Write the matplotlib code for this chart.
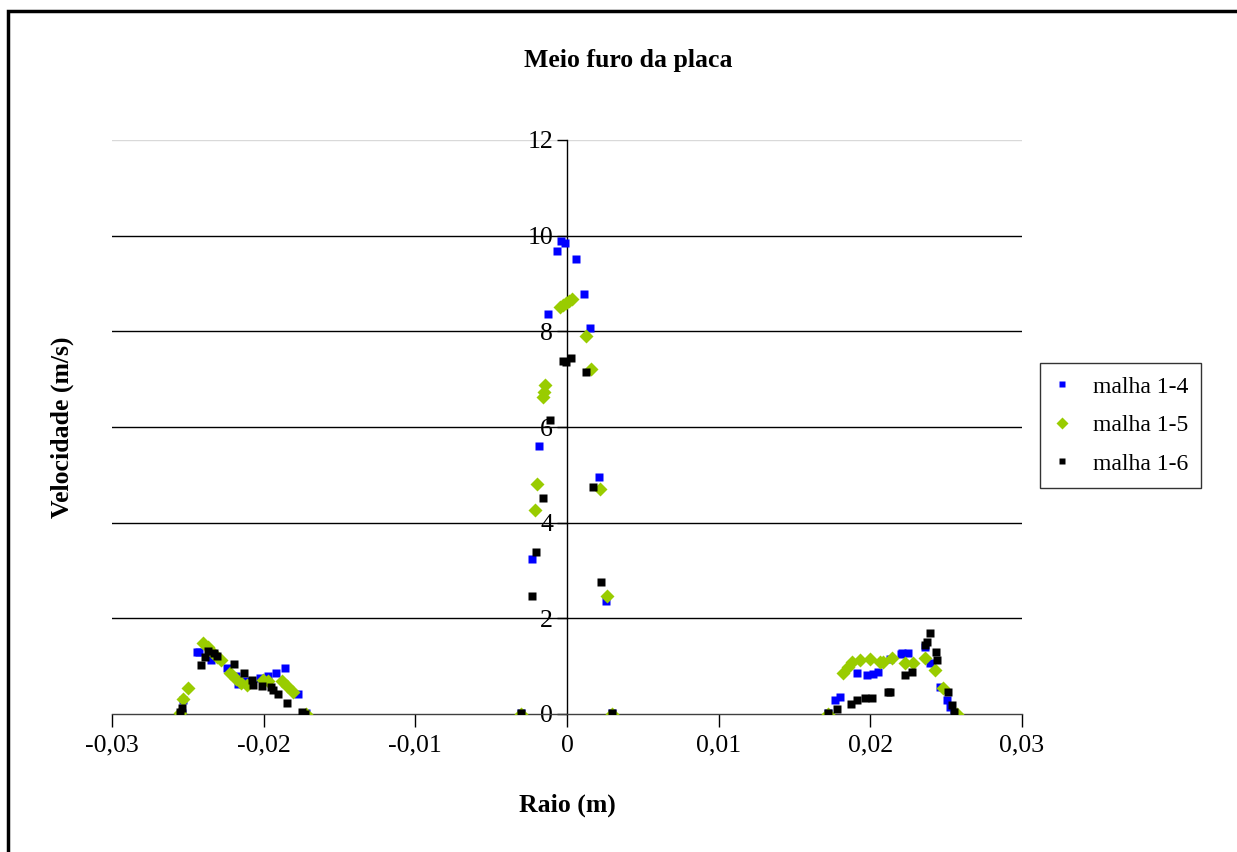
import matplotlib.pyplot as plt
from matplotlib.patches import Rectangle
from matplotlib.ticker import FuncFormatter

plt.rcParams['font.family'] = ['Liberation Serif', 'DejaVu Serif']

# Velocidade x raio, três malhas
r_m14 = [-0.0254, -0.0253, -0.02442, -0.02424, -0.0235, -0.02242, -0.0218, -0.02167,
         -0.0212, -0.02024, -0.0197, -0.01921, -0.01859, -0.01776, -0.0172,
         -0.00301, -0.00231, -0.00183, -0.00123, -0.00066, -0.000415, -0.00013,
         0.00057, 0.00114, 0.00152, 0.00209, 0.00255, 0.00297,
         0.01723, 0.01767, 0.018, 0.0191, 0.01976, 0.0202, 0.02053, 0.0213,
         0.022, 0.02207, 0.0225, 0.0236, 0.02393, 0.02459, 0.02503, 0.02525, 0.0255]
v_m14 = [0.02, 0.29, 1.30, 1.29, 1.12, 0.96, 0.80, 0.62,
         0.68, 0.75, 0.80, 0.85, 0.97, 0.42, 0.02,
         0.02, 3.24, 5.61, 8.37, 9.67, 9.88, 9.85,
         9.52, 8.79, 8.08, 4.96, 2.37, 0.02,
         0.03, 0.29, 0.36, 0.85, 0.82, 0.84, 0.88, 1.16,
         1.25, 1.27, 1.27, 1.41, 1.06, 0.57, 0.29, 0.15, 0.02]

r_m15 = [-0.02552, -0.02532, -0.02497, -0.0240, -0.0237, -0.0234, -0.0231, -0.0228,
         -0.02222, -0.0218, -0.0215, -0.02112, -0.02002, -0.0197, -0.01881, -0.01846,
         -0.01805, -0.01721,
         -0.00301, -0.00213, -0.002, -0.00158, -0.00154, -0.00143,
         -0.00045, -0.00025, -0.00005, 0.00015, 0.00035, 0.00123, 0.0016, 0.00218,
         0.00262, 0.00297,
         0.01723, 0.01822, 0.01855, 0.01877, 0.01932, 0.01998, 0.02064, 0.02085,
         0.02141, 0.02229, 0.02283, 0.0236, 0.02426, 0.02481, 0.02569]
v_m15 = [0.02, 0.31, 0.54, 1.49, 1.40, 1.30, 1.20, 1.12,
         0.86, 0.73, 0.65, 0.61, 0.71, 0.68, 0.68, 0.59,
         0.47, 0.00,
         0.01, 4.27, 4.80, 6.63, 6.74, 6.88,
         8.51, 8.56, 8.60, 8.64, 8.68, 7.91, 7.22, 4.71,
         2.47, 0.01,
         0.00, 0.85, 0.99, 1.09, 1.13, 1.14, 1.09, 1.09,
         1.17, 1.07, 1.06, 1.17, 0.92, 0.54, 0.00]

r_m16 = [-0.02552, -0.0254, -0.02415, -0.02387, -0.02367, -0.0233, -0.0231, -0.02198,
         -0.02132, -0.02079, -0.02068, -0.02013, -0.01954, -0.01936, -0.01903,
         -0.01848, -0.01749, -0.01727,
         -0.00301, -0.00231, -0.00204, -0.0016, -0.00112, -0.00026, -0.00005,
         0.00028, 0.00127, 0.00173, 0.00224, 0.00297,
         0.01723, 0.01778, 0.01872, 0.0191, 0.01965, 0.0201, 0.02118, 0.0213,
         0.02229, 0.02277, 0.0236, 0.02372, 0.02393, 0.02433, 0.02441, 0.02514,
         0.02536, 0.02552]
v_m16 = [0.04, 0.13, 1.02, 1.19, 1.32, 1.28, 1.21, 1.05,
         0.86, 0.71, 0.61, 0.59, 0.56, 0.50, 0.41,
         0.22, 0.05, 0.01,
         0.02, 2.47, 3.38, 4.52, 6.14, 7.38, 7.36,
         7.45, 7.16, 4.74, 2.75, 0.02,
         0.03, 0.10, 0.21, 0.29, 0.33, 0.33, 0.45, 0.45,
         0.82, 0.88, 1.44, 1.51, 1.69, 1.30, 1.13, 0.45,
         0.19, 0.05]

fig = plt.figure(figsize=(12.37, 8.52), dpi=100)
ax = fig.add_axes([112 / 1237, 1 - 714 / 852, 910 / 1237, 574 / 852])

# linhas de grade horizontais
for yv in [2, 4, 6, 8, 10]:
    ax.axhline(yv, color='black', lw=1.0, zorder=1)
ax.axhline(12, color='#d9d9d9', lw=1.0, zorder=1)

ax.plot(r_m14, v_m14, 's', color='#0000ff', ms=5.5, mec='none', label='malha 1-4', zorder=3)
ax.plot(r_m15, v_m15, 'D', color='#99cc00', ms=7, mec='none', label='malha 1-5', zorder=4)
ax.plot(r_m16, v_m16, 's', color='black', ms=5.5, mec='none', label='malha 1-6', zorder=5)

ax.set_xlim(-0.03, 0.03)
ax.set_ylim(0, 12)
ax.set_xticks([-0.03, -0.02, -0.01, 0, 0.01, 0.02, 0.03])
ax.set_yticks([0, 2, 4, 6, 8, 10, 12])
ax.xaxis.set_major_formatter(FuncFormatter(lambda v, p: ('%.2f' % v).replace('.', ',') if abs(v) > 1e-9 else '0'))

ax.spines['left'].set_position(('data', 0))
ax.spines['top'].set_visible(False)
ax.spines['right'].set_visible(False)
ax.spines['left'].set_linewidth(1.0)
ax.spines['bottom'].set_linewidth(1.0)
ax.spines['bottom'].set_color('#404040')
ax.tick_params(axis='y', direction='out', length=7, width=1, pad=3, labelsize=18.5)
ax.tick_params(axis='x', direction='out', length=9, width=1, pad=6, labelsize=18.5)
ax.patch.set_alpha(0)

fig.text(628 / 1237, 1 - 60 / 852, 'Meio furo da placa', ha='center', va='center',
         fontsize=18.5, fontweight='bold')
fig.text(62 / 1237, 1 - 427 / 852, 'Velocidade (m/s)', ha='center', va='center',
         rotation=90, fontsize=18.5, fontweight='bold')
fig.text(567 / 1237, 1 - 805 / 852, 'Raio (m)', ha='center', va='center',
         fontsize=18.5, fontweight='bold')

leg = fig.legend(loc='upper left', bbox_to_anchor=(1040 / 1237, 1 - 363 / 852),
                 borderaxespad=0, fancybox=False, edgecolor='black', fontsize=17,
                 handlelength=0.8, handletextpad=0.9, labelspacing=0.72,
                 borderpad=0.55, markerscale=0.9)
leg.get_frame().set_linewidth(1.0)

# moldura externa do gráfico
fig.patches.append(Rectangle((8 / 1237, -0.2), 1.3, 1.2 - 11 / 852, transform=fig.transFigure,
                             fill=False, edgecolor='black', lw=2.5, clip_on=False))

fig.savefig('out.png', dpi=100)
